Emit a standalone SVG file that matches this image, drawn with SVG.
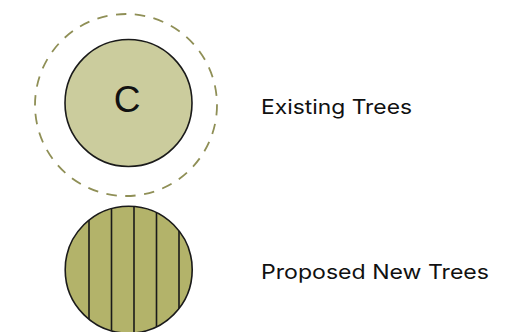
<svg xmlns="http://www.w3.org/2000/svg" width="513" height="332" viewBox="0 0 513 332">
<style>
.outline{stroke:#1a1a1a;stroke-width:1.6}
.stripe{stroke:#1a1a1a;stroke-width:1.6}
.label{font-family:Inter,"DejaVu Sans","Liberation Sans",sans-serif;font-weight:400;font-size:20px;fill:#111}
</style>
<defs>
<clipPath id="clipNew"><circle cx="128.7" cy="269.7" r="63.5"/></clipPath>
</defs>
<rect width="513" height="332" fill="#fff"/>
<g id="existing-tree">
<circle cx="126" cy="105" r="91" fill="none" stroke="#8f8f56" stroke-width="1.8" stroke-dasharray="10.5 8.5"/>
<circle class="outline" cx="128.5" cy="103" r="63.5" fill="#cbcc9d"/>
<text x="127" y="112" text-anchor="middle" font-family="Liberation Sans, Arial, sans-serif" font-size="37" fill="#111">C</text>
</g>
<g id="existing-label">
<text class="label" x="261" y="114" textLength="151" lengthAdjust="spacingAndGlyphs">Existing Trees</text>
</g>
<g id="proposed-tree">
<circle cx="128.7" cy="269.7" r="63.5" fill="#b3b36a"/>
<g clip-path="url(#clipNew)">
<line class="stripe" x1="89" y1="200" x2="89" y2="340"/>
<line class="stripe" x1="111.5" y1="200" x2="111.5" y2="340"/>
<line class="stripe" x1="134" y1="200" x2="134" y2="340"/>
<line class="stripe" x1="156.5" y1="200" x2="156.5" y2="340"/>
<line class="stripe" x1="179" y1="200" x2="179" y2="340"/>
</g>
<circle class="outline" cx="128.7" cy="269.7" r="63.5" fill="none"/>
</g>
<g id="proposed-label">
<text class="label" x="261" y="279" textLength="228" lengthAdjust="spacingAndGlyphs">Proposed New Trees</text>
</g>
<g id="connectors"/>
</svg>
